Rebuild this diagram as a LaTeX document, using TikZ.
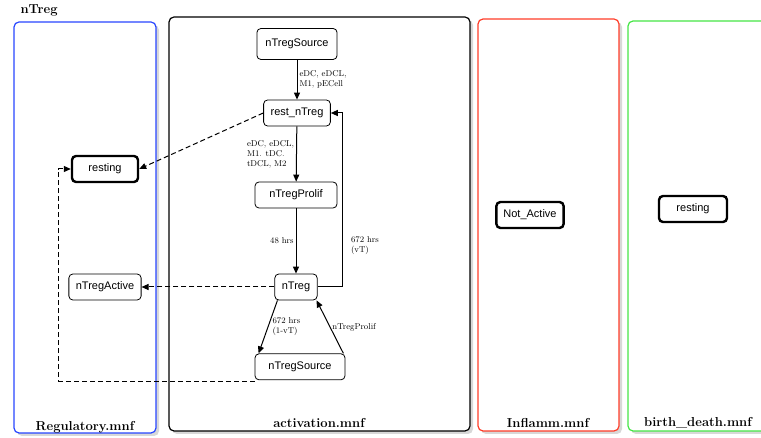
\documentclass[tikz,border=0pt]{standalone}
\usepackage{fontspec}
\newfontfamily\helv{Liberation Sans}
\usetikzlibrary{positioning,shadows,arrows.meta}

\begin{document}
\begin{tikzpicture}[x=1pt,y=-1pt,>={Triangle[length=7pt,width=6pt]},
						box/.style={rounded corners=5pt,line width=1.2pt,fill=white,drop shadow={shadow xshift=3pt,shadow yshift=-3pt,fill=black!30}},
						state/.style={draw,rounded corners=4pt,fill=white,font=\helv\fontsize{11}{13}\selectfont,minimum height=26pt,inner xsep=7pt,line width=0.8pt},
						heavy/.style={state,line width=2.4pt},
						lbl/.style={font=\fontsize{8.5}{10}\selectfont,align=left,inner sep=2pt},
						title/.style={font=\bfseries\fontsize{13}{15}\selectfont},
						flow/.style={->,line width=1pt},
						link/.style={->,line width=1pt,dash pattern=on 5pt off 3pt}]
		\useasboundingbox (0,0) rectangle (761,438);

		\draw[box,draw={rgb,255:red,40;green,70;blue,255}]	(14,22) rectangle (156,433);
		\draw[box,draw=black]										(169,17) rectangle (470,431);
		\draw[box,draw={rgb,255:red,255;green,60;blue,40}]	(478,19) rectangle (619,431);
		\draw[box,draw={rgb,255:red,70;green,230;blue,70}]	(628,21) rectangle (768,431);

		\node[title,anchor=west]	(t)	at (17,10)	{nTreg};
		\node[title]					(t0)	at (85,427)	{Regulatory.mnf};
		\node[title]					(t1)	at (319,423)	{activation.mnf};
		\node[title]					(t2)	at (548,423)	{Inflamm.mnf};
		\node[title]					(t3)	at (698,423)	{birth\_death.mnf};

		\node[state,minimum height=31pt,inner xsep=8.5pt]	(0)	at (297,44)		{nTregSource};
		\node[state]												(1)	at (297,113)	{rest\_nTreg};
		\node[state,minimum width=82pt]						(2)	at (296,195)	{nTregProlif};
		\node[state]												(3)	at (296,287)	{nTreg};
		\node[state,node distance=53pt,below=of 3,minimum width=90pt,xshift=4pt]	(6)	{nTregSource};
		\node[state]												(4)	at (105,287)	{nTregActive};
		\node[heavy,minimum width=66pt]						(5)	at (105,169)	{resting};
		\node[heavy]												(7)	at (530,215)	{Not\_Active};
		\node[heavy,minimum width=68pt]						(8)	at (693,209)	{resting};

		\draw[flow] (0) -- (1) node[lbl,midway,right] {eDC, eDCL,\\M1, pECell};
		\draw[flow] (1) -- (2) node[lbl,midway,left] {eDC, eDCL,\\M1. tDC.\\tDCL, M2};
		\draw[flow] (2) -- (3) node[lbl,midway,left] {48 hrs};
		\draw[flow] (3.east) -- ++(25,0) |- (1.east) node[lbl,pos=0.12,right,xshift=6pt] {672 hrs\\(vT)};
		\draw[flow] ([xshift=3pt]3.south west) -- ([xshift=4pt]6.north west) node[lbl,midway,right,xshift=2pt] {672 hrs\\(1-vT)};
		\draw[flow] ([xshift=-2pt]6.north east) -- ([xshift=-1pt]3.south east) node[lbl,midway,right] {nTregProlif};

		\draw[link] (3) -- (4);
		\draw[link] (1.west) -- (5.east);
		\draw[link] ([yshift=-1pt]6.south west) -- ++(-196,0) |- (5.west);
	\end{tikzpicture}
\end{document}
